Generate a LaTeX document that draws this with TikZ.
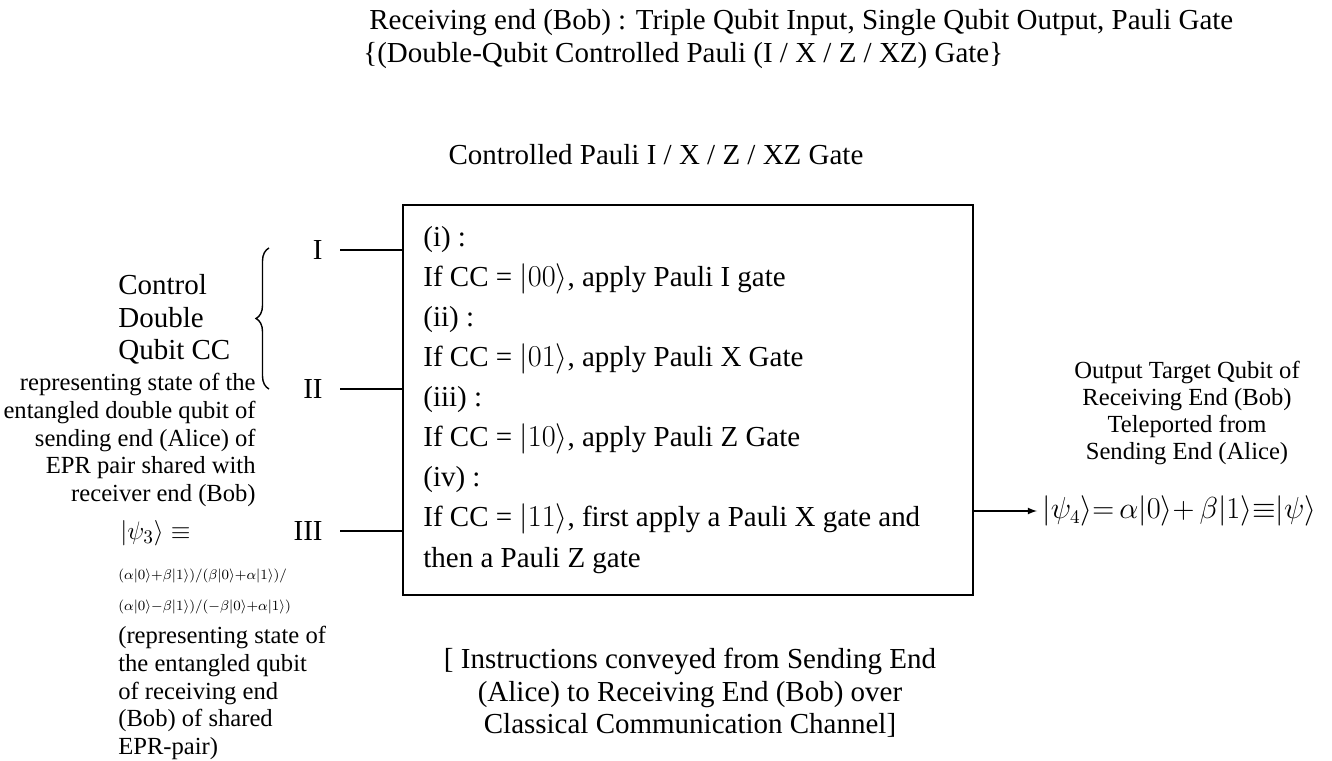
\documentclass[tikz,border=0pt]{standalone}
\usepackage{amsmath, fontspec}
\setmainfont{Liberation Serif}
\usetikzlibrary{calc, decorations.pathreplacing}

\newcommand{\ket}[1]{{\left|#1\right\rangle}}

\begin{document}
\begin{tikzpicture}
    \tikzset{
      bigtext/.style = {font=\fontsize{16.5}{22.8}\selectfont},
      smalltext/.style = {font=\fontsize{14}{15.9}\selectfont},
      tinytext/.style = {font=\fontsize{7.7}{17.6}\selectfont},
      wire/.style = {thick}
    }
    \useasboundingbox (0cm, 0cm) rectangle (26.64cm, -15.22cm);

    % headings
    \node (title1) at (7.38cm, -0.46cm) [anchor = west, inner sep = 0pt, bigtext]
      {Receiving end (Bob) : Triple Qubit Input, Single Qubit Output, Pauli Gate};
    \node (title2) at (7.26cm, -1.12cm) [anchor = west, inner sep = 0pt, bigtext]
      {\{(Double-Qubit Controlled Pauli (I / X / Z / XZ) Gate\}};
    \node (gatename) at (13.12cm, -3.10cm) [bigtext] {Controlled Pauli I / X / Z / XZ Gate};

    % the gate
    \node (gate) at (13.76cm, -8.00cm) [draw, thick, minimum width = 11.4cm,
      minimum height = 7.8cm] {};
    \node (rules) at (8.46cm, -4.52cm) [anchor = north west, align = left,
      inner sep = 0pt, bigtext] {%
      (i) :\\
      If CC = $\ket{00}$, apply Pauli I gate\\
      (ii) :\\
      If CC = $\ket{01}$, apply Pauli X Gate\\
      (iii) :\\
      If CC = $\ket{10}$, apply Pauli Z Gate\\
      (iv) :\\
      If CC = $\ket{11}$, first apply a Pauli X gate and\\
      then a Pauli Z gate};

    % inputs
    \node (inI) at (6.80cm, -5.00cm) [anchor = east, inner xsep = 0.34cm, bigtext] {I};
    \node (inII) at (6.80cm, -7.78cm) [anchor = east, inner xsep = 0.34cm, bigtext] {II};
    \node (inIII) at (6.80cm, -10.62cm) [anchor = east, inner xsep = 0.34cm, bigtext] {III};
    \draw [wire] (inI.east) -- (inI.east -| gate.west);
    \draw [wire] (inII.east) -- (inII.east -| gate.west);
    \draw [wire] (inIII.east) -- (inIII.east -| gate.west);

    \coordinate (bracetop) at (5.38cm, -4.96cm);
    \coordinate (bracebot) at (5.38cm, -7.78cm);
    \draw [thick, decorate, decoration = {brace, amplitude = 0.26cm}]
      (bracebot) -- (bracetop);

    \node (control) at (2.36cm, -6.39cm) [anchor = west, align = left,
      inner sep = 0pt, font = \fontsize{16.5}{18.5}\selectfont]
      {Control\\Double\\Qubit CC};
    \node (ctrlnote) at (5.12cm, -8.80cm) [anchor = east, align = right,
      inner sep = 0pt, smalltext] {%
      representing state of the\\
      entangled double qubit of\\
      sending end (Alice) of\\
      EPR pair shared with\\
      receiver end (Bob)};

    \node (psi3) at (2.40cm, -10.66cm) [anchor = west, inner sep = 0pt,
      font = \fontsize{15}{18}\selectfont] {$\ket{\psi_3}\equiv$};
    \node (psi3val) at (2.36cm, -11.83cm) [anchor = west, align = left,
      inner sep = 0pt, tinytext] {%
      $(\alpha|0\rangle{+}\beta|1\rangle)/(\beta|0\rangle{+}\alpha|1\rangle)/$\\
      $(\alpha|0\rangle{-}\beta|1\rangle)/({-}\beta|0\rangle{+}\alpha|1\rangle)$};
    \node (targetnote) at (2.36cm, -13.86cm) [anchor = west, align = left,
      inner sep = 0pt, smalltext] {%
      (representing state of\\
      the entangled qubit\\
      of receiving end\\
      (Bob) of shared\\
      EPR-pair)};

    % output
    \node (psi4) at (20.74cm, -10.22cm) [anchor = west, inner sep = 0.1cm,
      font = \fontsize{16}{19}\selectfont]
      {$\ket{\psi_4}{=}\,\alpha\ket{0}{+}\,\beta\ket{1}{\equiv}\ket{\psi}$};
    \draw [wire, -latex] (psi4.west -| gate.east) -- (psi4.west);
    \node (outnote) at (23.74cm, -8.26cm) [align = center,
      font = \fontsize{14}{15.5}\selectfont] {%
      Output Target Qubit of\\
      Receiving End (Bob)\\
      Teleported from\\
      Sending End (Alice)};

    \node (channel) at (13.80cm, -13.86cm) [align = center,
      font = \fontsize{16.5}{18.5}\selectfont] {%
      [ Instructions conveyed from Sending End\\
      (Alice) to Receiving End (Bob) over\\
      Classical Communication Channel]};
\end{tikzpicture}
\end{document}
